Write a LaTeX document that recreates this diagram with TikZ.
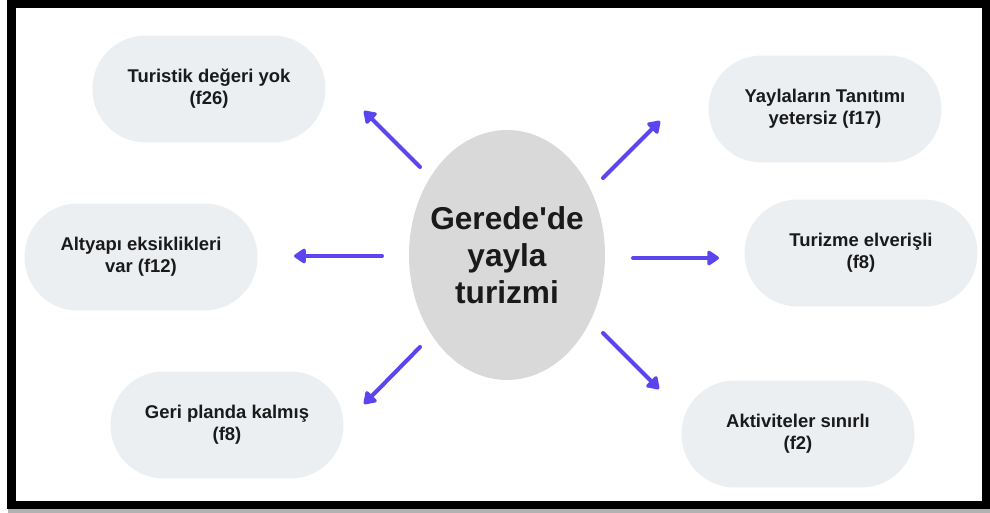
\documentclass[tikz,border=0pt]{standalone}
\usepackage{fontspec}
\setmainfont{Liberation Sans}
\usetikzlibrary{arrows.meta,shapes.geometric,positioning}
\definecolor{pillgray}{HTML}{ECEFF2}
\definecolor{ovalgray}{HTML}{D9D9D9}
\definecolor{arrowblue}{HTML}{5A45EE}
\definecolor{inkblack}{HTML}{1A1A1A}
\tikzset{
    every picture/.style={line width=0.75pt},
    pill/.style={rectangle, rounded corners=1.06cm, fill=pillgray, minimum width=4.66cm,
        minimum height=2.14cm, align=center, text=inkblack, font=\bfseries\fontsize{10.5}{12.5}\selectfont},
    centre/.style={ellipse, fill=ovalgray, minimum width=3.92cm, minimum height=5cm, inner xsep=-5pt,
        inner ysep=0pt, align=center, text=inkblack, font=\bfseries\fontsize{18}{21}\selectfont},
    arr/.style={arrowblue, line width=2.3pt, line cap=round, -{Triangle[length=7.5pt,width=9.5pt,round]}}
}

\begin{document}
\begin{tikzpicture}[x=0.02cm, y=-0.02cm]
    \useasboundingbox (0,0) rectangle (990,513);
    
    % çerçeve ve gölge
    \fill[gray!60] (8,508) rectangle (990,513);
    \draw[line width=4.8pt] (11.5,4) rectangle (986,505);
    
    % merkez
    \node[centre] (yayla) at (507,255) {Gerede\textquotesingle de\\yayla\\turizmi};
    
    % sonuçlar
    \node[pill] (turistik) at (209,89) {Turistik değeri yok\\(f26)};
    \node[pill] (altyapi) at (141,257) {Altyapı eksiklikleri\\var (f12)};
    \node[pill] (geri) at (227,425) {Geri planda kalmış\\(f8)};
    \node[pill] (tanitim) at (825,109) {Yaylaların Tanıtımı\\yetersiz (f17)};
    \node[pill] (elverisli) at (861,253) {Turizme elverişli\\(f8)};
    \node[pill] (aktivite) at (798,434) {Aktiviteler sınırlı\\(f2)};
    
    % ok uçları
    \coordinate (tl-s) at (420,167);  \coordinate (tl-e) at (364,111);
    \coordinate (ml-s) at (382,256);  \coordinate (ml-e) at (294,256);
    \coordinate (bl-s) at (420,347);  \coordinate (bl-e) at (364,404);
    \coordinate (tr-s) at (603,178);  \coordinate (tr-e) at (660,121);
    \coordinate (mr-s) at (633,258);  \coordinate (mr-e) at (719,258);
    \coordinate (br-s) at (603,333);  \coordinate (br-e) at (659,389);
    
    % oklar
    \draw[arr] (tl-s) -- (tl-e);
    \draw[arr] (ml-s) -- (ml-e);
    \draw[arr] (bl-s) -- (bl-e);
    \draw[arr] (tr-s) -- (tr-e);
    \draw[arr] (mr-s) -- (mr-e);
    \draw[arr] (br-s) -- (br-e);
\end{tikzpicture}
\end{document}
